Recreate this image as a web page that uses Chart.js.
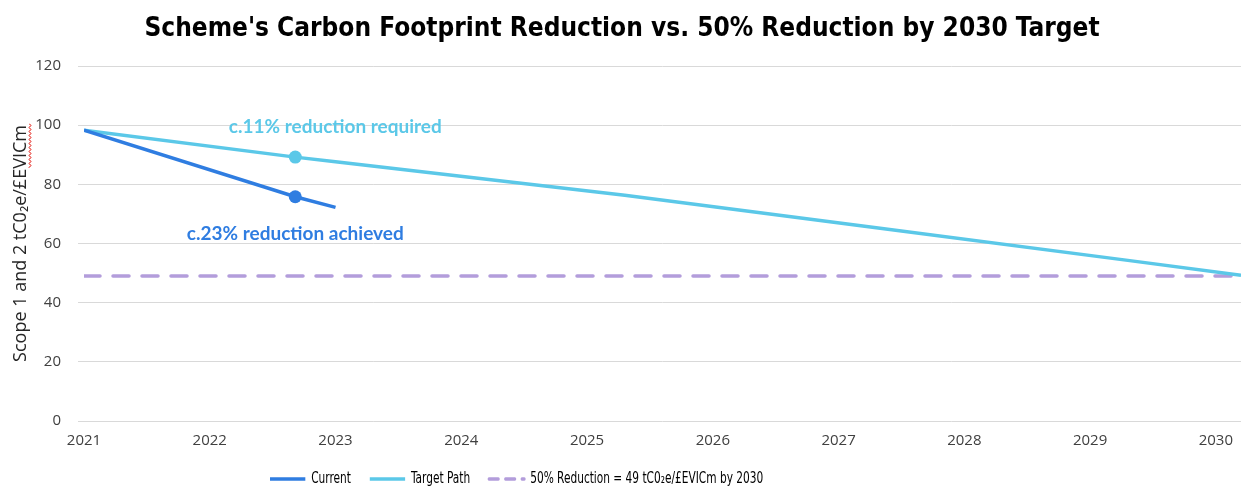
<!DOCTYPE html>
<html>
<head>
<meta charset="utf-8">
<script src="https://cdn.jsdelivr.net/npm/chart.js@4.4.1/dist/chart.umd.min.js"></script>
<style>
  html, body { margin: 0; padding: 0; background: #ffffff; }
  #wrap { width: 1244px; height: 486px; position: relative; }
</style>
</head>
<body>
<div id="wrap"><canvas id="chart"></canvas></div>
<script>
// Emissions intensity, tCO2e per £m EVIC, plotted against decimal year
const currentYears  = [2021, 2022.68, 2023];
const currentValues = [98.3, 75.8, 72.2];

const targetYears  = [2021, 2022.68, 2023, 2025.3, 2027.3, 2029.3, 2030.2];
const targetValues = [98.3, 89.2, 87.6, 76.3, 65.3, 54.3, 49.3];

const goalYears  = [2021, 2030.2];
const goalValues = [49, 49];

const yearTicks = [2021, 2022, 2023, 2024, 2025, 2026, 2027, 2028, 2029, 2030];
const markedYear = 2022.68;

const seriesNames = ['Current', 'Target Path', '50% Reduction = 49 tC0\u2082e/\u00A3EVICm by 2030'];
const noteTexts = ['c.11% reduction required', 'c.23% reduction achieved'];

const COL_CURRENT = '#2f7de1';
const COL_TARGET = '#5bc8e8';
const COL_GOAL = '#b39ddb';

// The legend is drawn horizontally condensed
const LEGEND_SQUEEZE = 0.785;
const LEGEND_START_X = 270;
const LEGEND_PAD = 24;

const toPoints = (xs, ys) => xs.map((x, i) => ({ x: x, y: ys[i] }));
const markerRadius = ctx => (ctx.raw && ctx.raw.x === markedYear ? 6.5 : 0);

// Labels next to the highlighted points, legend placement and the spell-check squiggle
const notesPlugin = {
  id: 'notes',
  afterLayout(chart) {
    const lg = chart.legend;
    if (!lg) return;
    const dy = 447.5 - lg.top;
    lg.top += dy; lg.bottom += dy;
    if (!lg._squeezed) {
      const baseDraw = lg.draw;
      lg.draw = function () {
        const c = this.ctx;
        c.save();
        c.translate(LEGEND_START_X, 0);
        c.scale(LEGEND_SQUEEZE, 1);
        c.translate(-(this.left + LEGEND_PAD), 0);
        baseDraw.apply(this, arguments);
        c.restore();
      };
      lg._squeezed = true;
    }
  },
  afterDatasetsDraw(chart) {
    const { ctx, scales } = chart;
    const x = scales.x.getPixelForValue(markedYear);
    const yT = scales.y.getPixelForValue(targetValues[1]);
    const yC = scales.y.getPixelForValue(currentValues[1]);
    ctx.save();
    ctx.font = 'bold 19px Lato';
    ctx.textAlign = 'center';
    ctx.textBaseline = 'middle';
    ctx.fillStyle = COL_TARGET;
    ctx.fillText(noteTexts[0], x + 40, yT - 30);
    ctx.fillStyle = COL_CURRENT;
    ctx.fillText(noteTexts[1], x, yC + 37);
    ctx.restore();
  },
  afterDraw(chart) {
    const { ctx } = chart;
    const wave = (x0, y0, len) => {
      ctx.beginPath();
      for (let i = 0; i <= len; i += 1) {
        const o = (i % 4 < 2 ? (i % 2) : 1 - (i % 2)) * 2;
        i === 0 ? ctx.moveTo(x0 + o, y0 + i) : ctx.lineTo(x0 + o, y0 + i);
      }
      ctx.stroke();
    };
    ctx.save();
    ctx.strokeStyle = '#e8504a';
    ctx.lineWidth = 1;
    wave(29, 124, 44);
    ctx.restore();
  }
};

new Chart(document.getElementById('chart'), {
  type: 'line',
  data: {
    datasets: [
      {
        label: seriesNames[0],
        data: toPoints(currentYears, currentValues),
        borderColor: COL_CURRENT,
        backgroundColor: COL_CURRENT,
        borderWidth: 3.5,
        pointRadius: markerRadius,
        pointHoverRadius: markerRadius,
        pointBorderWidth: 0,
        tension: 0
      },
      {
        label: seriesNames[1],
        data: toPoints(targetYears, targetValues),
        borderColor: COL_TARGET,
        backgroundColor: COL_TARGET,
        borderWidth: 3.5,
        pointRadius: markerRadius,
        pointHoverRadius: markerRadius,
        pointBorderWidth: 0,
        tension: 0
      },
      {
        label: seriesNames[2],
        data: toPoints(goalYears, goalValues),
        borderColor: COL_GOAL,
        backgroundColor: COL_GOAL,
        borderWidth: 3.5,
        borderDash: [16, 13],
        borderCapStyle: 'round',
        pointRadius: 0,
        tension: 0
      }
    ]
  },
  options: {
    responsive: true,
    maintainAspectRatio: false,
    animation: false,
    layout: { padding: { left: 0, right: 0, top: 0, bottom: -18 } },
    plugins: {
      title: {
        display: true,
        text: "Scheme's Carbon Footprint Reduction vs. 50% Reduction by 2030 Target",
        color: '#000000',
        font: { family: "'DejaVu Sans Condensed', 'DejaVu Sans'", size: 26, weight: 'bold' },
        padding: { top: 14, bottom: 20.8 }
      },
      legend: {
        position: 'bottom',
        align: 'start',
        labels: {
          color: '#404040',
          font: { family: "'DejaVu Sans Condensed', 'DejaVu Sans'", size: 15 },
          usePointStyle: true,
          pointStyleWidth: 45,
          boxWidth: 45,
          boxHeight: 4,
          padding: LEGEND_PAD,
          generateLabels(chart) {
            return chart.data.datasets.map((ds, i) => ({
              text: ds.label,
              strokeStyle: ds.borderColor,
              fillStyle: ds.borderColor,
              lineWidth: 3.5,
              lineDash: ds.borderDash ? [12, 9] : [],
              lineCap: ds.borderDash ? 'round' : 'butt',
              pointStyle: 'line',
              datasetIndex: i,
              hidden: false
            }));
          }
        }
      },
      tooltip: { enabled: false }
    },
    scales: {
      x: {
        type: 'linear',
        min: 2021,
        max: 2030.2,
        afterBuildTicks(scale) { scale.ticks = yearTicks.map(v => ({ value: v })); },
        afterFit(scale) { scale.height = 34; },
        ticks: {
          color: '#404040',
          font: { family: "'Open Sans'", size: 15 },
          padding: 11,
          maxRotation: 0,
          autoSkip: false,
          callback: v => String(v)
        },
        grid: { display: false, drawTicks: false },
        border: { display: false }
      },
      y: {
        min: 0,
        max: 120,
        afterFit(scale) { scale.width = 84; },
        ticks: {
          stepSize: 20,
          color: '#404040',
          font: { family: "'Open Sans'", size: 15 },
          padding: 17
        },
        grid: { color: '#d9d9d9', lineWidth: 1, tickLength: 6, drawTicks: true },
        border: { display: false },
        title: {
          display: true,
          text: 'Scope 1 and 2 tC0\u2082e/\u00A3EVICm',
          color: '#262626',
          font: { family: "'Open Sans'", size: 18 },
          padding: { top: 10, bottom: 0 }
        }
      }
    }
  },
  plugins: [notesPlugin]
});
</script>
</body>
</html>
